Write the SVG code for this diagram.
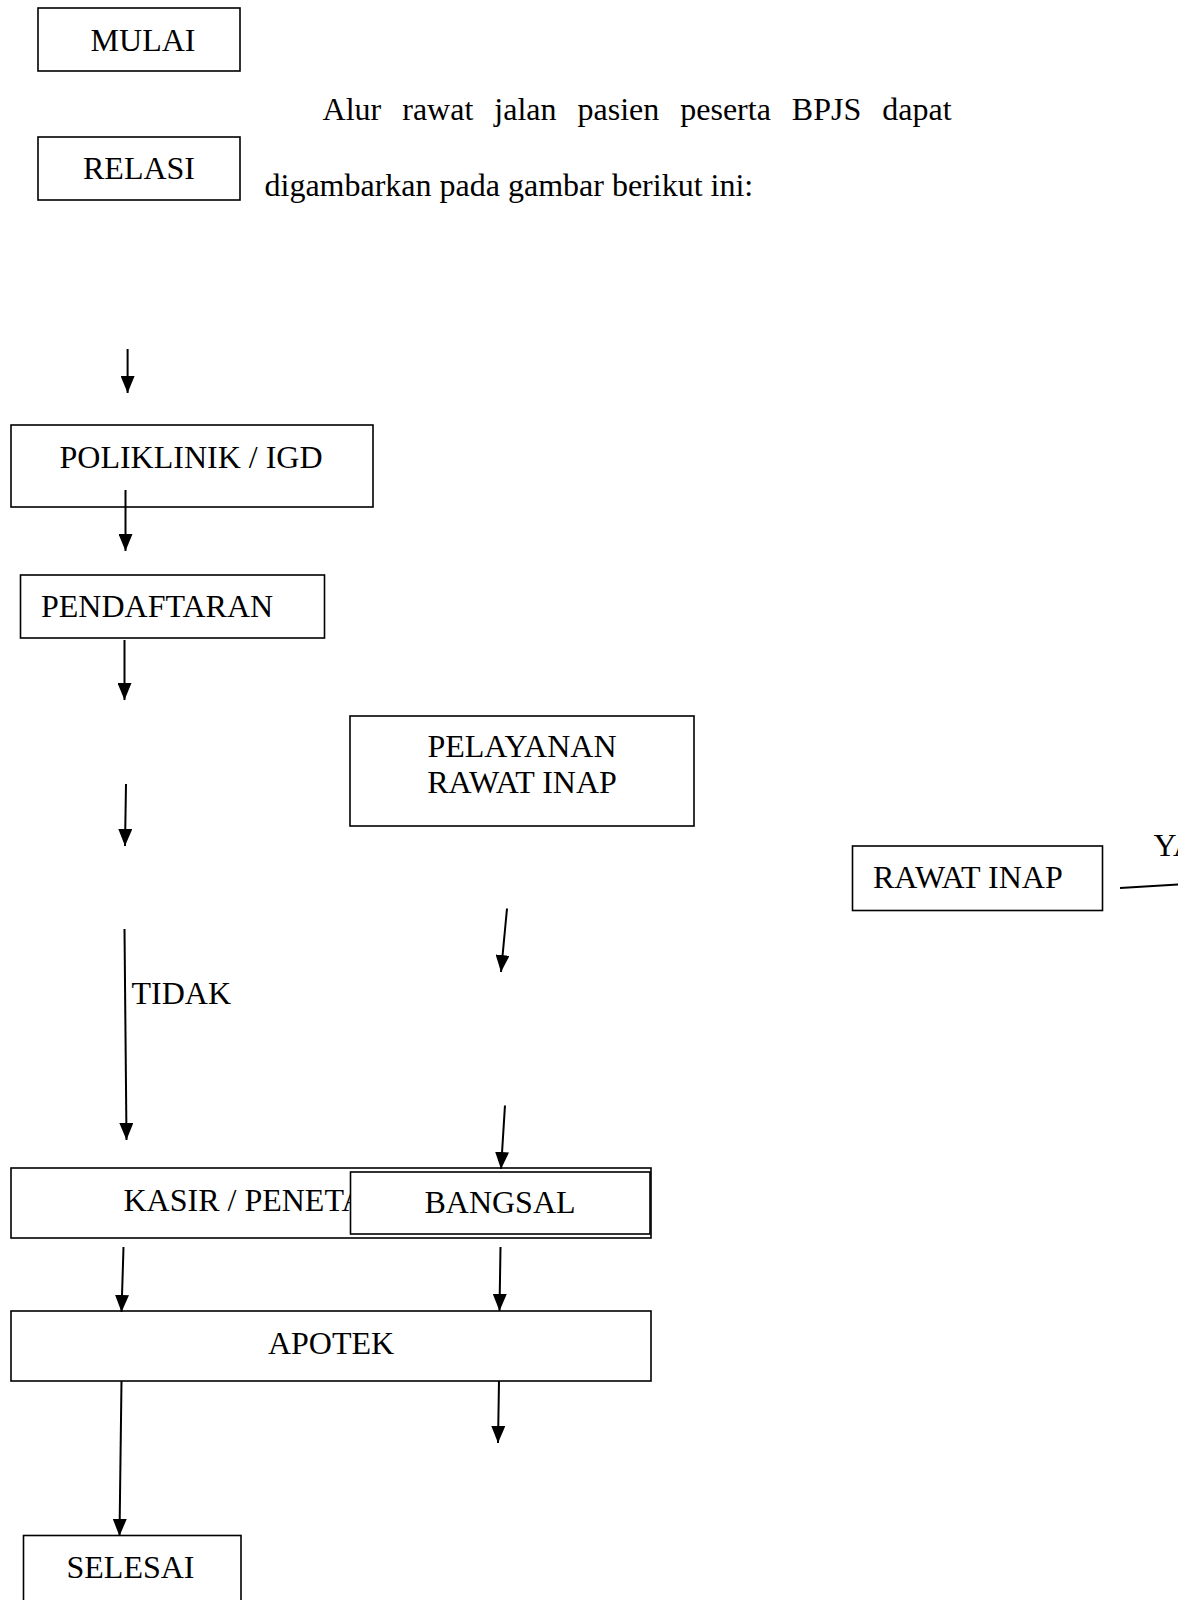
<svg xmlns="http://www.w3.org/2000/svg" width="1178" height="1600" viewBox="0 0 1178 1600">
<defs>
<style>
.box{fill:#fff;stroke:#000;stroke-width:1.6}
.t{font-family:"Liberation Serif","Times New Roman",serif;font-size:32px;fill:#000}
.m{text-anchor:middle}
.c{fill:none;stroke:#000;stroke-width:2}
</style>
<marker id="ah" markerUnits="userSpaceOnUse" markerWidth="18" markerHeight="14" refX="17" refY="7" orient="auto">
<path d="M0,0 L17,7 L0,14 z" fill="#000"/>
</marker>
</defs>
<rect width="1178" height="1600" fill="#fff"/>

<g id="mulai"><rect class="box" x="38" y="8" width="202" height="63"/><text class="t m" x="143" y="50.5">MULAI</text></g>
<g id="relasi"><rect class="box" x="38" y="137" width="202" height="63"/><text class="t m" x="139" y="178.5">RELASI</text></g>
<g id="paragraph">
<text class="t" x="322.6" y="119.5" word-spacing="13">Alur rawat jalan pasien peserta BPJS dapat</text>
<text class="t" x="264.5" y="196">digambarkan pada gambar berikut ini:</text>
</g>

<g id="poliklinik"><rect class="box" x="11" y="425" width="362" height="82"/><text class="t m" x="191" y="467.5">POLIKLINIK / IGD</text></g>
<g id="pendaftaran"><rect class="box" x="20.5" y="575" width="304" height="63"/><text class="t" x="41" y="616.5">PENDAFTARAN</text></g>
<g id="pelayanan"><rect class="box" x="350" y="716" width="344" height="110"/><text class="t m" x="522" y="756.5">PELAYANAN</text><text class="t m" x="522" y="793">RAWAT INAP</text></g>
<g id="rawat-inap"><rect class="box" x="852.5" y="846" width="250" height="64.5"/><text class="t" x="873" y="888">RAWAT INAP</text></g>
<g id="kasir"><rect class="box" x="11" y="1168" width="640" height="70"/><text class="t" x="123.5" y="1211">KASIR / PENETA</text></g>
<g id="bangsal"><rect class="box" x="350.5" y="1172" width="299.5" height="62"/><text class="t m" x="500" y="1212.5">BANGSAL</text></g>
<g id="apotek"><rect class="box" x="11" y="1311" width="640" height="70"/><text class="t m" x="331" y="1353.5">APOTEK</text></g>
<g id="selesai"><rect class="box" x="23.5" y="1535.5" width="217.5" height="80"/><text class="t m" x="130.5" y="1578">SELESAI</text></g>

<g id="connectors">
<line class="c" x1="127.6" y1="349" x2="127.6" y2="393" marker-end="url(#ah)"/>
<line class="c" x1="125.5" y1="490" x2="125.5" y2="551" marker-end="url(#ah)"/>
<line class="c" x1="124.5" y1="640" x2="124.5" y2="700" marker-end="url(#ah)"/>
<line class="c" x1="126" y1="784" x2="125" y2="846" marker-end="url(#ah)"/>
<line class="c" x1="124.5" y1="929" x2="126.5" y2="1140" marker-end="url(#ah)"/>
<line class="c" x1="507" y1="908.5" x2="501" y2="972" marker-end="url(#ah)"/>
<line class="c" x1="505" y1="1105.5" x2="501" y2="1169" marker-end="url(#ah)"/>
<line class="c" x1="123.5" y1="1247" x2="121.5" y2="1312" marker-end="url(#ah)"/>
<line class="c" x1="500.5" y1="1247" x2="499.5" y2="1311" marker-end="url(#ah)"/>
<line class="c" x1="121.5" y1="1381" x2="119.5" y2="1536" marker-end="url(#ah)"/>
<line class="c" x1="499" y1="1381" x2="498" y2="1443" marker-end="url(#ah)"/>
<line class="c" x1="1120" y1="888" x2="1180" y2="884.5"/>
<text class="t" x="131.5" y="1004">TIDAK</text>
<text class="t" x="1153.5" y="855.5">YA</text>
</g>
</svg>
